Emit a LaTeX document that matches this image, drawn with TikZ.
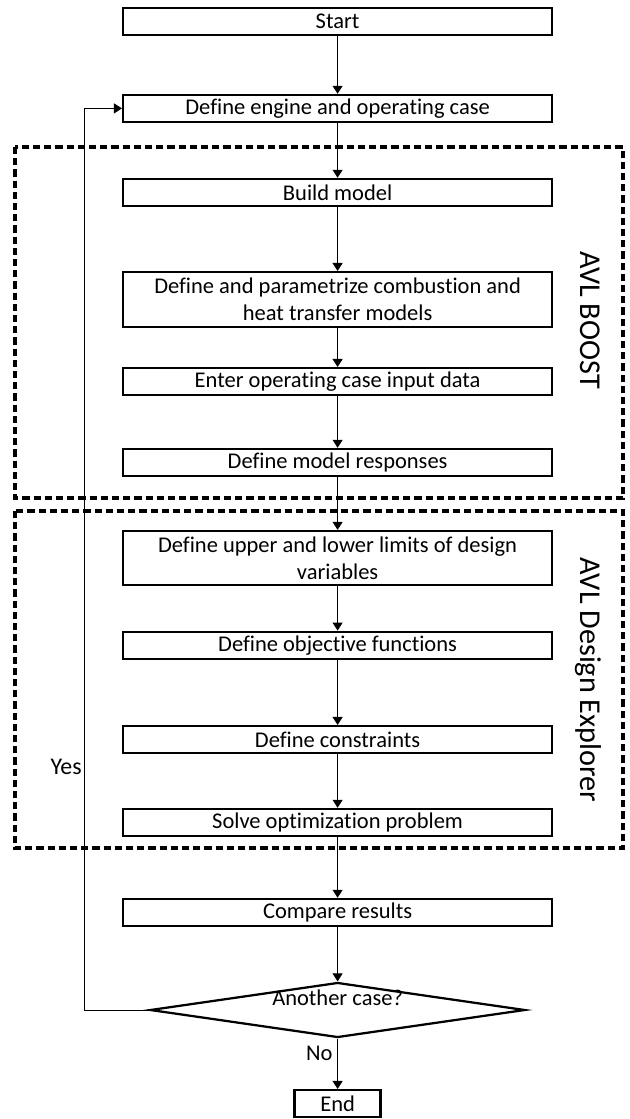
\documentclass[tikz,border=0pt]{standalone}
\usepackage{fontspec}
\setmainfont[Ligatures=NoCommon]{Carlito}
\usetikzlibrary{
    shapes.geometric,
    arrows.meta,
    positioning
}

\begin{document}
\begin{tikzpicture}[
        block/.style={draw, line width=1.6pt, minimum width=10.725cm, minimum height=0.675cm, inner sep=0pt, align=center, font=\fontsize{16}{19}\selectfont},
        decision/.style={draw, diamond, line width=1.6pt, minimum width=9.375cm, minimum height=1.375cm, inner sep=0pt, font=\fontsize{16}{19}\selectfont},
        arrow/.style={-{Triangle[length=0.2cm, width=0.25cm]}, line width=0.7pt},
        group/.style={draw, line width=2.2pt, dash pattern=on 0.18cm off 0.1cm},
        side/.style={rotate=-90, font=\fontsize{21.5}{25}\selectfont}
    ]
        \useasboundingbox (0,0) rectangle (15.725,-27.975);

        % Start
        \node[block] (start) at (8.44, -0.54) {Start};
        \node[block] (engine) at (8.44, -2.71) {Define engine and operating case};

        % AVL BOOST
        \draw[group] (0.375, -3.675) rectangle (15.575, -12.45);
        \node[side] (boostlbl) at (14.75, -8.0) {AVL BOOST};
        \node[block] (build) at (8.44, -4.81) {Build model};
        \node[block, minimum height=1.375cm] (param) at (8.44, -7.49) {Define and parametrize combustion and\\heat transfer models};
        \node[block] (enter) at (8.44, -9.54) {Enter operating case input data};
        \node[block] (resp) at (8.44, -11.56) {Define model responses};

        % AVL Design Explorer
        \draw[group] (0.375, -12.775) rectangle (15.575, -21.2);
        \node[side] (explbl) at (14.7, -17.0) {AVL Design Explorer};
        \node[block, minimum height=1.35cm] (limits) at (8.44, -13.95) {Define upper and lower limits of design\\variables};
        \node[block] (obj) at (8.44, -16.13) {Define objective functions};
        \node[block] (cons) at (8.44, -18.49) {Define constraints};
        \node[block] (solve) at (8.44, -20.56) {Solve optimization problem};

        % Compare and decide
        \node[block] (compare) at (8.44, -22.81) {Compare results};
        \node[decision, label={[font=\fontsize{16}{19}\selectfont, yshift=0.3cm]center:Another case?}] (decide) at (8.44, -25.25) {};
        \node[block, minimum width=2.15cm] (end) at (8.44, -27.59) {End};

        % Arrows
        \draw[arrow] (start) -- (engine);
        \draw[arrow] (engine) -- (build);
        \draw[arrow] (build) -- (param);
        \draw[arrow] (param) -- (enter);
        \draw[arrow] (enter) -- (resp);
        \draw[arrow] (resp) -- (limits);
        \draw[arrow] (limits) -- (obj);
        \draw[arrow] (obj) -- (cons);
        \draw[arrow] (cons) -- (solve);
        \draw[arrow] (solve) -- (compare);
        \draw[arrow] (compare) -- (decide);
        \draw[arrow] (decide) -- node[left, pos=0.3, font=\fontsize{16}{19}\selectfont] {No} (end);
        \draw[arrow] (decide.west) -- ++(-1.6, 0) |- node[left, pos=0.135, inner sep=2pt, font=\fontsize{17}{20}\selectfont] {Yes} (engine.west);
    \end{tikzpicture}
\end{document}
